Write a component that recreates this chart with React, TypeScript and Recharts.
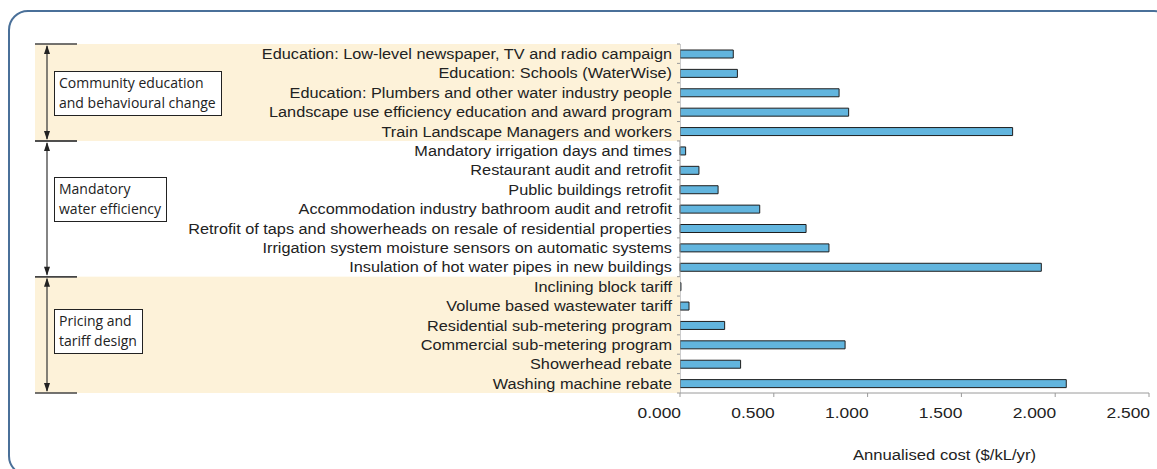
import React from 'react';
import { BarChart, Bar, XAxis, YAxis } from 'recharts';

const categories = [
  'Education: Low-level newspaper, TV and radio campaign',
  'Education: Schools (WaterWise)',
  'Education: Plumbers and other water industry people',
  'Landscape use efficiency education and award program',
  'Train Landscape Managers and workers',
  'Mandatory irrigation days and times',
  'Restaurant audit and retrofit',
  'Public buildings retrofit',
  'Accommodation industry bathroom audit and retrofit',
  'Retrofit of taps and showerheads on resale of residential properties',
  'Irrigation system moisture sensors on automatic systems',
  'Insulation of hot water pipes in new buildings',
  'Inclining block tariff',
  'Volume based wastewater tariff',
  'Residential sub-metering program',
  'Commercial sub-metering program',
  'Showerhead rebate',
  'Washing machine rebate',
];

const annualisedCost = [
  0.284, 0.306, 0.848, 0.899, 1.773,
  0.03, 0.101, 0.203, 0.425, 0.672, 0.794, 1.926,
  0.005, 0.048, 0.238, 0.88, 0.323, 2.059,
];

const groupNames = [
  ['Community education', 'and behavioural change'],
  ['Mandatory', 'water efficiency'],
  ['Pricing and', 'tariff design'],
];
const groupSizes = [5, 7, 6];
const groupShaded = [true, false, true];

const xTicks = [0, 0.5, 1, 1.5, 2, 2.5];
const xAxisTitle = 'Annualised cost ($/kL/yr)';

const data = categories.map((name, i) => ({ name, cost: annualisedCost[i] }));

// layout / style constants
const boxShift = [1, -9.5, -3];
const CREAM = '#FDF2D9';
const TEXT = '#222222';
const AXIS = '#9a9a9a';
const LABEL_FONT = '"Liberation Sans", Arial, sans-serif';
const BOX_FONT = '"Open Sans", "Noto Sans", sans-serif';

const TICK_MARGIN = 8;
const BRACKET_LEFT = 35;
const BRACKET_RIGHT = 77;
const ARROW_X = 47;

function GroupDecorations({ top0, step, axisX }: { top0: number; step: number; axisX: number }) {
  const items: React.ReactNode[] = [];
  let start = 0;
  groupSizes.forEach((n, g) => {
    const gTop = top0 + start * step;
    const gBot = gTop + n * step;
    if (groupShaded[g]) {
      items.push(
        <rect key={`bg${g}`} x={BRACKET_LEFT} y={gTop} width={axisX - BRACKET_LEFT} height={gBot - gTop} fill={CREAM} />
      );
    }
    start += n;
  });
  start = 0;
  groupSizes.forEach((n, g) => {
    const gTop = top0 + start * step;
    const gBot = gTop + n * step;
    const ah = 10;
    const aw = 3;
    const boxH = 120;
    const center = (gTop + gBot) / 2 + boxShift[g];
    items.push(
      <line key={`t${g}`} x1={BRACKET_LEFT} x2={BRACKET_RIGHT} y1={gTop} y2={gTop} stroke="#444" strokeWidth={1.5} />,
      <line key={`b${g}`} x1={BRACKET_LEFT} x2={BRACKET_RIGHT} y1={gBot} y2={gBot} stroke="#444" strokeWidth={1.5} />,
      <line key={`v${g}`} x1={ARROW_X} x2={ARROW_X} y1={gTop + 2} y2={gBot - 2} stroke="#333" strokeWidth={1.2} />,
      <polygon key={`au${g}`} points={`${ARROW_X},${gTop + 1} ${ARROW_X - aw},${gTop + ah} ${ARROW_X + aw},${gTop + ah}`} fill="#222" />,
      <polygon key={`ad${g}`} points={`${ARROW_X},${gBot - 1} ${ARROW_X - aw},${gBot - ah} ${ARROW_X + aw},${gBot - ah}`} fill="#222" />,
      <foreignObject key={`box${g}`} x={54} y={center - boxH / 2} width={260} height={boxH}>
        <div style={{ height: '100%', display: 'flex', alignItems: 'center' }}>
          <div
            style={{
              display: 'inline-block',
              border: '1.2px solid #222',
              background: '#fff',
              padding: '1px 5px 2px 4px',
              fontFamily: BOX_FONT,
              fontSize: 14,
              lineHeight: '20px',
              color: TEXT,
              whiteSpace: 'nowrap',
            }}
          >
            {groupNames[g][0]}
            <br />
            {groupNames[g][1]}
          </div>
        </div>
      </foreignObject>
    );
    start += n;
  });
  return <g>{items}</g>;
}

function CategoryTick(props: any) {
  const { x, y, payload } = props;
  const idx = categories.indexOf(payload.value);
  const half = payload && payload.offset ? payload.offset : 349 / 36;
  const step = half * 2;
  const axisX = x + TICK_MARGIN;
  return (
    <g>
      {idx === 0 && <GroupDecorations top0={y - half} step={step} axisX={axisX} />}
      <line x1={axisX - 3} x2={axisX} y1={y - half} y2={y - half} stroke={AXIS} />
      {idx === categories.length - 1 && (
        <line x1={axisX - 3} x2={axisX} y1={y + half} y2={y + half} stroke={AXIS} />
      )}
      <text
        transform={`translate(${x},${y}) scale(1.085,1)`}
        x={0}
        y={0}
        dy="0.36em"
        textAnchor="end"
        fontFamily={LABEL_FONT}
        fontSize={15}
        fill={TEXT}
      >
        {payload.value}
      </text>
    </g>
  );
}

function ValueTick(props: any) {
  const { x, y, payload } = props;
  return (
    <text
      transform={`translate(${x + 1},${y}) scale(1.16,1)`}
      x={0}
      y={0}
      dy="0.71em"
      textAnchor="end"
      fontFamily={LABEL_FONT}
      fontSize={15}
      fill={TEXT}
    >
      {Number(payload.value).toFixed(3)}
    </text>
  );
}

function AxisTitle(props: any) {
  const vb = props.viewBox || { x: 680, y: 393, width: 469, height: 76 };
  return (
    <text
      transform={`translate(${vb.x + vb.width / 2 + 30},${vb.y + 67}) scale(1.11,1)`}
      x={0}
      y={0}
      textAnchor="middle"
      fontFamily={LABEL_FONT}
      fontSize={15}
      fill={TEXT}
    >
      {xAxisTitle}
    </text>
  );
}

export default function App() {
  return (
    <div style={{ position: 'absolute', left: 0, top: 0, width: 1157, height: 469, overflow: 'hidden', background: '#fff' }}>
      <div
        style={{
          position: 'absolute',
          left: 8,
          top: 10,
          width: 1166,
          height: 466,
          border: '2px solid #4a7099',
          borderRadius: 20,
          boxSizing: 'border-box',
        }}
      />
      <div style={{ position: 'absolute', left: 0, top: 0 }}>
        <BarChart
          width={1157}
          height={469}
          data={data}
          layout="vertical"
          margin={{ top: 44, right: 8, bottom: 0, left: 0 }}
          barSize={8}
        >
          <XAxis
            type="number"
            domain={[0, 2.5]}
            ticks={xTicks}
            height={76}
            axisLine={{ stroke: AXIS }}
            tickLine={{ stroke: AXIS }}
            tickSize={4}
            tickMargin={10}
            tick={<ValueTick />}
            label={<AxisTitle />}
            interval={0}
          />
          <YAxis
            type="category"
            dataKey="name"
            width={680}
            axisLine={{ stroke: AXIS }}
            tickLine={false}
            tickSize={0}
            tickMargin={TICK_MARGIN}
            tick={<CategoryTick />}
            interval={0}
          />
          <Bar dataKey="cost" fill="#62B5DE" stroke="#1e1e1e" strokeWidth={1} isAnimationActive={false} />
        </BarChart>
      </div>
    </div>
  );
}
